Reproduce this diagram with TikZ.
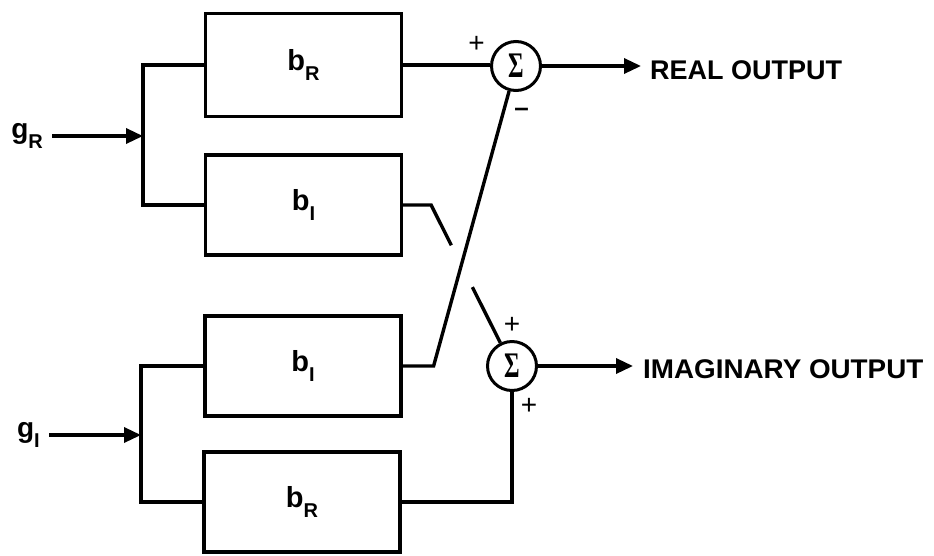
\documentclass[tikz,border=0pt]{standalone}
\usepackage{fontspec}
\setmainfont{Liberation Sans}
\newfontfamily\sigmafont{Liberation Serif}
\usetikzlibrary{arrows.meta,calc}

% symbol with a lowered, smaller subscript
\newcommand\symsub[2]{#1\raisebox{-10pt}{\fontsize{20}{20}\selectfont #2}}

\tikzset{
  block/.style={draw, line width=3.2pt, minimum width=196pt, minimum height=100pt,
                inner sep=0pt, font=\fontsize{29}{29}\selectfont\bfseries},
  summer/.style={draw, circle, line width=3pt, minimum size=49pt, inner sep=0pt,
                 font=\fontsize{36}{36}\selectfont\sigmafont\bfseries},
  wire/.style={line width=3.4pt},
  sig/.style={wire, -{Triangle[length=17pt,width=15pt]}},
  outtxt/.style={anchor=west, inner sep=0pt, font=\fontsize{27}{27}\selectfont\bfseries},
  intxt/.style={anchor=east, inner sep=0pt, font=\fontsize{28}{28}\selectfont\bfseries},
  sign/.style={inner sep=0pt, font=\fontsize{28}{28}\selectfont},
}

\begin{document}
\begin{tikzpicture}[x=1pt,y=-1pt]
\useasboundingbox (0,0) rectangle (934,555);

% filter blocks
\node[block, minimum height=103pt] (bR1) at (303.5,65) {\symsub{b}{R}};
\node[block] (bI1) at (303.5,205) {\symsub{b}{I}};
\node[block] (bI2) at (303,366) {\symsub{b}{I}};
\node[block] (bR2) at (302,502) {\symsub{b}{R}};

% summing junctions
\node[summer] (s1) at (516,66) {\scalebox{0.66}[1]{Σ}};
\node[summer] (s2) at (512,366) {\scalebox{0.66}[1]{Σ}};

% inputs and branch points
\coordinate (jR) at (143,136);
\coordinate (jI) at (141,435);
\node[intxt] (gR) at (43,136) {\symsub{g}{R}};
\node[intxt] (gI) at (40,435) {\symsub{g}{I}};
\draw[sig, shorten <=9pt] (gR.east) -- (jR);
\draw[sig, shorten <=9pt] (gI.east) -- (jI);
\draw[wire] (bR1.west) -| (jR) |- (bI1.west);
\draw[wire] (bI2.west) -| (jI) |- (bR2.west);

% block outputs to the summers
\coordinate (kI1) at ($(bI1.east)+(28,0)$);
\coordinate (kI2) at ($(bI2.east)+(31,0)$);
\draw[wire] (bR1.east) -- (bR1.east -| s1.west);
\draw[wire] (bI1.east) -- (kI1) -- ($(kI1)!0.25!(s2)$);
\draw[wire] ($(kI1)!0.51!(s2)$) -- (s2);
\draw[wire] (bI2.east) -- (kI2) -- (s1);
\draw[wire] (bR2.east) -| (s2.south);

% signs at the summer inputs
\node[sign] (p1) at (476.5,44) {+};
\node[sign, font=\fontsize{26}{26}\selectfont\bfseries] (m1) at (521.5,112) {–};
\node[sign] (p2) at (512,325) {+};
\node[sign] (p3) at (529,406) {+};

% outputs
\coordinate (oR) at (641,66);
\coordinate (oI) at (633,366);
\draw[sig] (s1) -- (oR);
\draw[sig] (s2) -- (oI);
\node[outtxt] (tR) at (650,70.5) {REAL OUTPUT};
\node[outtxt] (tI) at (643,369) {\scalebox{1.03}[1]{IMAGINARY OUTPUT}};
\end{tikzpicture}
\end{document}
